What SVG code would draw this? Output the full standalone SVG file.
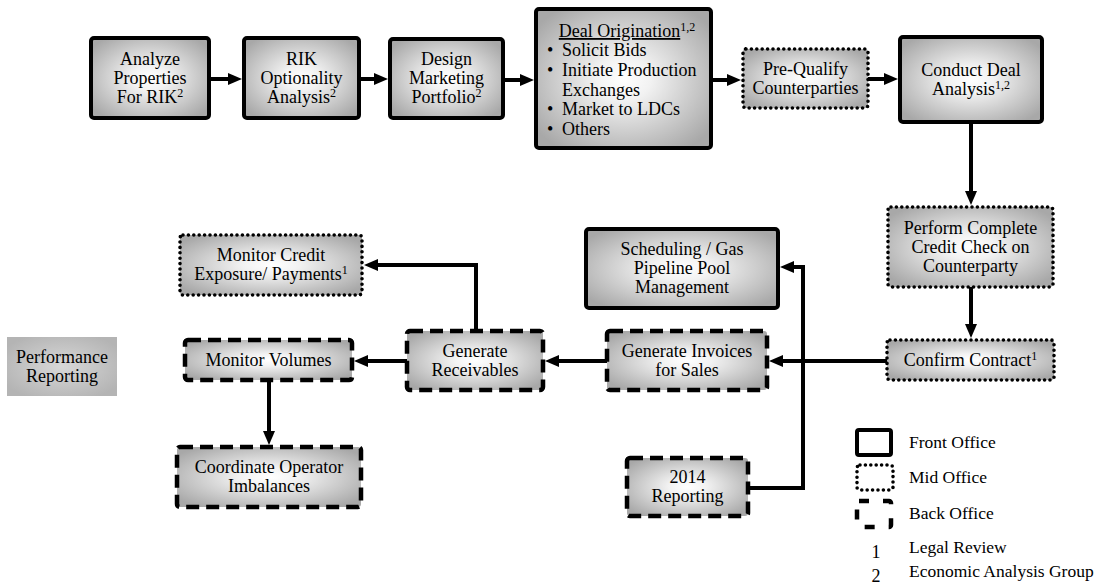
<svg xmlns="http://www.w3.org/2000/svg" width="1110" height="588" viewBox="0 0 1110 588" font-family="Liberation Serif, DejaVu Serif, serif">
<defs>
<radialGradient id="g" cx="50%" cy="50%" r="62%">
<stop offset="0%" stop-color="#ffffff"/>
<stop offset="25%" stop-color="#f2f2f2"/>
<stop offset="100%" stop-color="#a8a8a8"/>
</radialGradient>
<radialGradient id="gp" cx="50%" cy="50%" r="60%">
<stop offset="0%" stop-color="#d8d8d8"/>
<stop offset="100%" stop-color="#b4b4b4"/>
</radialGradient>
<marker id="ah" viewBox="0 0 14 12" markerWidth="14" markerHeight="12" refX="4" refY="6" orient="auto" markerUnits="userSpaceOnUse">
<path d="M0,0 L14,6 L0,12 z" fill="#000"/>
</marker>
</defs>
<style>
text{font-family:'Liberation Serif','DejaVu Serif',serif;font-size:18px;fill:#000;text-anchor:middle}
.lg{text-anchor:start}
.leg{font-size:17.5px;text-anchor:start}
.box{fill:url(#g);stroke:#000}
.front{stroke-width:4}
.mid{stroke-width:3.6;stroke-dasharray:0 5.4;stroke-linecap:round}
.back{stroke-width:4.5;stroke-dasharray:13 7}
.con{fill:none;stroke:#000;stroke-width:4}
.arr{marker-end:url(#ah)}
.sup{font-size:12px}
</style>

<g id="connectors">
<line class="con arr" x1="209" y1="79" x2="232" y2="79"/>
<line class="con arr" x1="359" y1="79" x2="378" y2="79"/>
<line class="con arr" x1="503" y1="80" x2="524" y2="80"/>
<line class="con arr" x1="711" y1="80" x2="731" y2="80"/>
<line class="con arr" x1="868" y1="79" x2="888" y2="79"/>
<line class="con arr" x1="971" y1="122" x2="971" y2="195"/>
<line class="con arr" x1="971" y1="287" x2="971" y2="328"/>
<line class="con arr" x1="887" y1="361" x2="779" y2="361"/>
<polyline class="con arr" points="750,488 803,488 803,267 790,267"/>
<line class="con arr" x1="607" y1="361" x2="555" y2="361"/>
<polyline class="con arr" points="476,331 476,265 374,265"/>
<line class="con arr" x1="407" y1="361" x2="364" y2="361"/>
<line class="con arr" x1="269" y1="380" x2="269" y2="435"/>
</g>

<g id="n1"><rect class="box front" x="91" y="38" width="118" height="80" rx="3"/>
<text x="150" y="65">Analyze</text><text x="150" y="84">Properties</text><text x="150" y="103">For RIK<tspan class="sup" dy="-6">2</tspan></text></g>

<g id="n2"><rect class="box front" x="244" y="38" width="115" height="80" rx="3"/>
<text x="301.5" y="65">RIK</text><text x="301.5" y="84">Optionality</text><text x="301.5" y="103">Analysis<tspan class="sup" dy="-6">2</tspan></text></g>

<g id="n3"><rect class="box front" x="390" y="39" width="113" height="79" rx="3"/>
<text x="446.5" y="65">Design</text><text x="446.5" y="84">Marketing</text><text x="446.5" y="103">Portfolio<tspan class="sup" dy="-6">2</tspan></text></g>

<g id="n4"><rect class="box front" x="536" y="9" width="175" height="139" rx="3"/>
<text x="627" y="37"><tspan text-decoration="underline">Deal Origination</tspan><tspan class="sup" dy="-6">1,2</tspan></text>
<text class="lg" x="547" y="56">•</text><text class="lg" x="562" y="56">Solicit Bids</text>
<text class="lg" x="547" y="76">•</text><text class="lg" x="562" y="76">Initiate Production</text>
<text class="lg" x="562" y="96">Exchanges</text>
<text class="lg" x="547" y="115">•</text><text class="lg" x="562" y="115">Market to LDCs</text>
<text class="lg" x="547" y="135">•</text><text class="lg" x="562" y="135">Others</text></g>

<g id="n5"><rect class="box mid" x="743" y="49" width="125" height="59" rx="3"/>
<text x="805.5" y="75">Pre-Qualify</text><text x="805.5" y="94">Counterparties</text></g>

<g id="n6"><rect class="box front" x="900" y="37" width="142" height="85" rx="3"/>
<text x="971" y="76">Conduct Deal</text><text x="971" y="95">Analysis<tspan class="sup" dy="-6">1,2</tspan></text></g>

<g id="n7"><rect class="box mid" x="888" y="207" width="165" height="80" rx="3"/>
<text x="970.5" y="234">Perform Complete</text><text x="970.5" y="253">Credit Check on</text><text x="970.5" y="272">Counterparty</text></g>

<g id="n8"><rect class="box mid" x="887" y="340" width="167" height="40" rx="3"/>
<text x="970.5" y="366">Confirm Contract<tspan class="sup" dy="-6">1</tspan></text></g>

<g id="n9"><rect class="box front" x="586" y="229" width="192" height="79" rx="3"/>
<text x="682" y="255">Scheduling / Gas</text><text x="682" y="274">Pipeline Pool</text><text x="682" y="293">Management</text></g>

<g id="n10"><rect class="box back" x="607" y="331" width="160" height="59" rx="3"/>
<text x="687" y="357">Generate Invoices</text><text x="687" y="376">for Sales</text></g>

<g id="n11"><rect class="box back" x="407" y="331" width="136" height="59" rx="3"/>
<text x="475" y="357">Generate</text><text x="475" y="376">Receivables</text></g>

<g id="n12"><rect class="box mid" x="180" y="235" width="182" height="60" rx="3"/>
<text x="271" y="261">Monitor Credit</text><text x="271" y="280">Exposure/ Payments<tspan class="sup" dy="-6">1</tspan></text></g>

<g id="n13"><rect class="box back" x="185" y="340" width="167" height="40" rx="3"/>
<text x="268.5" y="366">Monitor Volumes</text></g>

<g id="n14"><rect class="box back" x="177" y="447" width="184" height="60" rx="3"/>
<text x="269" y="473">Coordinate Operator</text><text x="269" y="492">Imbalances</text></g>

<g id="n15"><rect class="box back" x="627" y="458" width="121" height="58" rx="3"/>
<text x="687.5" y="483">2014</text><text x="687.5" y="502">Reporting</text></g>

<g id="n16"><rect x="7" y="337" width="110" height="59" fill="url(#gp)"/>
<text x="62" y="363">Performance</text><text x="62" y="382">Reporting</text></g>

<g id="legend">
<rect x="857" y="430" width="34" height="25" rx="2" fill="none" stroke="#000" stroke-width="4"/>
<rect x="857" y="465" width="36" height="25" rx="3" fill="none" stroke="#000" stroke-width="3.6" stroke-dasharray="0 5.4" stroke-linecap="round"/>
<rect x="857" y="501" width="34" height="26" rx="2" fill="none" stroke="#000" stroke-width="4.5" stroke-dasharray="10 14"/>
<text class="leg" x="909" y="448">Front Office</text>
<text class="leg" x="909" y="483">Mid Office</text>
<text class="leg" x="909" y="519">Back Office</text>
<text x="876" y="558" font-size="12">1</text>
<text class="leg" x="909" y="553">Legal Review</text>
<text x="876" y="582" font-size="12">2</text>
<text class="leg" x="909" y="577">Economic Analysis Group</text>
</g>
</svg>
